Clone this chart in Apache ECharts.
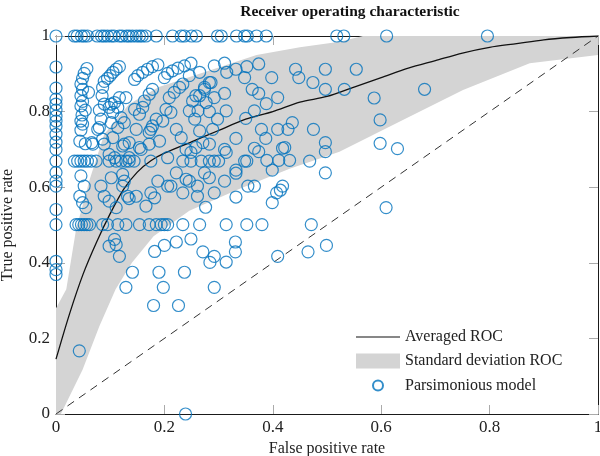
<!DOCTYPE html>
<html>
<head>
<meta charset="utf-8">
<script src="https://cdn.jsdelivr.net/npm/echarts@6/dist/echarts.min.js"></script>
<style>
  html, body { margin: 0; padding: 0; background: #fff; }
  #chart { width: 600px; height: 456px; }
</style>
</head>
<body>
<div id="chart"></div>
<script>
// averaged ROC curve (vertical averaging)
var meanX = [0, 0.025, 0.05, 0.075, 0.1, 0.125, 0.15, 0.175, 0.2, 0.25, 0.3, 0.35, 0.4, 0.45, 0.5, 0.55, 0.6, 0.65, 0.7, 0.75, 0.8, 0.85, 0.9, 0.95, 1];
var meanY = [0.145, 0.265, 0.37, 0.455, 0.53, 0.595, 0.64, 0.67, 0.69, 0.72, 0.75, 0.78, 0.80, 0.825, 0.84, 0.865, 0.89, 0.915, 0.935, 0.955, 0.97, 0.98, 0.99, 0.996, 1];

// standard deviation band, upper and lower edge
var upperX = [0, 0.019, 0.037, 0.062, 0.089, 0.135, 0.19, 0.265, 0.37, 0.45, 0.523, 0.566, 1];
var upperY = [0.28, 0.33, 0.488, 0.62, 0.74, 0.82, 0.865, 0.9, 0.95, 0.97, 0.985, 1, 1];
var lowerX = [0, 0.009, 0.049, 0.08, 0.11, 0.14, 0.18, 0.246, 0.339, 0.431, 0.523, 0.628, 0.751, 0.874, 1];
var lowerY = [0, 0, 0.117, 0.232, 0.33, 0.4, 0.47, 0.538, 0.596, 0.649, 0.694, 0.769, 0.857, 0.928, 0.95];

// parsimonious models: those with TPR = 1
var topRowX = [0, 0.034, 0.039, 0.047, 0.052, 0.058, 0.076, 0.084, 0.089, 0.095, 0.102, 0.107, 0.117, 0.122, 0.13, 0.135, 0.141, 0.148, 0.154, 0.159, 0.166, 0.185, 0.215, 0.231, 0.237, 0.25, 0.259, 0.298, 0.305, 0.333, 0.348, 0.353, 0.37, 0.388, 0.518, 0.531, 0.61, 0.796];
// models with FPR = 0
var axisColY = [0.918, 0.862, 0.833, 0.82, 0.804, 0.788, 0.775, 0.761, 0.74, 0.719, 0.70, 0.669, 0.639, 0.616, 0.603, 0.541, 0.501, 0.404, 0.382, 0.369];
// all the others, [fpr, tpr]
var innerPoints = [
  [0.057, 0.914], [0.052, 0.901], [0.049, 0.888],
  [0.046, 0.873], [0.049, 0.859], [0.06, 0.851], [0.046, 0.842], [0.049, 0.827], [0.046, 0.815], [0.054, 0.804], [0.048, 0.791], [0.046, 0.775], [0.049, 0.767], [0.046, 0.751], [0.044, 0.722], [0.054, 0.715], [0.066, 0.718],
  [0.117, 0.919], [0.111, 0.912], [0.105, 0.904], [0.1, 0.895], [0.095, 0.888], [0.089, 0.88], [0.086, 0.864], [0.085, 0.842], [0.089, 0.82], [0.08, 0.804], [0.083, 0.78], [0.08, 0.758], [0.086, 0.727],
  [0.188, 0.924], [0.178, 0.919], [0.169, 0.912], [0.16, 0.904], [0.151, 0.895], [0.145, 0.885],
  [0.249, 0.928], [0.237, 0.921], [0.225, 0.915], [0.215, 0.908], [0.206, 0.901], [0.2, 0.89], [0.265, 0.904], [0.246, 0.895], [0.234, 0.873],
  [0.178, 0.859], [0.172, 0.846], [0.163, 0.828], [0.16, 0.811], [0.228, 0.864], [0.218, 0.851], [0.209, 0.837], [0.274, 0.864], [0.265, 0.842], [0.252, 0.828],
  [0.117, 0.837], [0.129, 0.837], [0.108, 0.824], [0.098, 0.811], [0.203, 0.806], [0.212, 0.798], [0.145, 0.806], [0.154, 0.793], [0.185, 0.78], [0.197, 0.775],
  [0.246, 0.802], [0.256, 0.78], [0.277, 0.824], [0.283, 0.80], [0.126, 0.771], [0.114, 0.758], [0.148, 0.753], [0.178, 0.762], [0.172, 0.745], [0.222, 0.753],
  [0.231, 0.731], [0.265, 0.749], [0.105, 0.731], [0.135, 0.718], [0.123, 0.709], [0.157, 0.70], [0.191, 0.722], [0.24, 0.70], [0.249, 0.692], [0.283, 0.714],
  [0.098, 0.687], [0.108, 0.678], [0.135, 0.678], [0.206, 0.678], [0.268, 0.669],
  [0.102, 0.82], [0.114, 0.811], [0.105, 0.798], [0.12, 0.784], [0.102, 0.771],
  [0.292, 0.921], [0.311, 0.928], [0.315, 0.904], [0.332, 0.912], [0.352, 0.919], [0.374, 0.926], [0.348, 0.89], [0.398, 0.89], [0.442, 0.912], [0.448, 0.89],
  [0.497, 0.912], [0.474, 0.877], [0.497, 0.859], [0.286, 0.877], [0.362, 0.859], [0.374, 0.848], [0.409, 0.837], [0.311, 0.848], [0.292, 0.837], [0.388, 0.821],
  [0.366, 0.802], [0.314, 0.802], [0.35, 0.782], [0.298, 0.78], [0.436, 0.771], [0.428, 0.753], [0.409, 0.753], [0.379, 0.753], [0.475, 0.753], [0.387, 0.729],
  [0.332, 0.729], [0.289, 0.753], [0.418, 0.703], [0.366, 0.703], [0.374, 0.694], [0.311, 0.70], [0.314, 0.692], [0.497, 0.718], [0.497, 0.694],
  [0.389, 0.671], [0.411, 0.671], [0.431, 0.671],
  [0.274, 0.859], [0.283, 0.877], [0.258, 0.842], [0.262, 0.802], [0.271, 0.718], [0.258, 0.705], [0.422, 0.705],
  [0.554, 0.912], [0.532, 0.859], [0.587, 0.836], [0.68, 0.859], [0.598, 0.778], [0.598, 0.716], [0.63, 0.702],
  [0.249, 0.669], [0.283, 0.669], [0.292, 0.669], [0.30, 0.669], [0.348, 0.669], [0.352, 0.669], [0.468, 0.669], [0.497, 0.638], [0.274, 0.638], [0.283, 0.625],
  [0.332, 0.645], [0.332, 0.637], [0.399, 0.645], [0.246, 0.616], [0.261, 0.603], [0.311, 0.616], [0.292, 0.585], [0.354, 0.603], [0.366, 0.603], [0.418, 0.603],
  [0.414, 0.592], [0.407, 0.585], [0.332, 0.574], [0.399, 0.559], [0.276, 0.547], [0.265, 0.501], [0.314, 0.501], [0.352, 0.501], [0.38, 0.501], [0.471, 0.501],
  [0.609, 0.546],
  [0.034, 0.669], [0.04, 0.669], [0.046, 0.669], [0.052, 0.669], [0.058, 0.669], [0.065, 0.669], [0.074, 0.669], [0.098, 0.669], [0.111, 0.669], [0.12, 0.669],
  [0.129, 0.669], [0.135, 0.669], [0.144, 0.669], [0.175, 0.669], [0.234, 0.669],
  [0.037, 0.501], [0.042, 0.501], [0.047, 0.501], [0.052, 0.501], [0.057, 0.501], [0.062, 0.501], [0.086, 0.501], [0.095, 0.501], [0.114, 0.501], [0.129, 0.501],
  [0.154, 0.501], [0.172, 0.501], [0.185, 0.501], [0.194, 0.501], [0.2, 0.501], [0.206, 0.501], [0.234, 0.501],
  [0.046, 0.63], [0.052, 0.603], [0.044, 0.576], [0.049, 0.559], [0.055, 0.546], [0.083, 0.603], [0.089, 0.576], [0.098, 0.563], [0.111, 0.546], [0.102, 0.625],
  [0.123, 0.634], [0.126, 0.616], [0.123, 0.603], [0.132, 0.576], [0.135, 0.57], [0.148, 0.576], [0.166, 0.55], [0.175, 0.585], [0.182, 0.572], [0.188, 0.616],
  [0.206, 0.603], [0.212, 0.603], [0.222, 0.638], [0.234, 0.585], [0.24, 0.621], [0.261, 0.576],
  [0.108, 0.462], [0.098, 0.444], [0.111, 0.448], [0.117, 0.417],
  [0.068, 0.714], [0.089, 0.714], [0.126, 0.714], [0.154, 0.705], [0.172, 0.714], [0.077, 0.753], [0.175, 0.753],
  [0.182, 0.43], [0.2, 0.446], [0.222, 0.455], [0.249, 0.463], [0.271, 0.429], [0.292, 0.417], [0.284, 0.401], [0.314, 0.402], [0.331, 0.455], [0.331, 0.429],
  [0.409, 0.417], [0.465, 0.429], [0.499, 0.446],
  [0.043, 0.167], [0.239, 0], [0.141, 0.375], [0.19, 0.375], [0.237, 0.375], [0.129, 0.335], [0.198, 0.335], [0.292, 0.335], [0.18, 0.287], [0.226, 0.287]
];

var chanceLine = [[0, 0], [1, 1]];

var serif = 'Liberation Serif';
var textColor = '#222';
var modelBlue = '#0072BD';
var bandGrey = '#d4d4d4';

function zip(xs, ys) {
  var out = [];
  for (var i = 0; i < xs.length; i++) out.push([xs[i], ys[i]]);
  return out;
}

var modelData = topRowX.map(function (x) { return [x, 1]; })
  .concat(axisColY.map(function (y) { return [0, y]; }))
  .concat(innerPoints);

function axisDef(pos, showLabel) {
  var isX = pos === 'bottom' || pos === 'top';
  return {
    type: 'value',
    position: pos,
    min: 0,
    max: 1,
    interval: 0.2,
    splitLine: { show: false },
    axisLine: { show: true, onZero: false, lineStyle: { color: '#1a1a1a', width: 1 } },
    axisTick: { show: true, inside: true, length: 9, lineStyle: { color: '#aaa', width: 1 } },
    axisLabel: {
      show: showLabel,
      margin: isX ? 5 : 6,
      fontFamily: serif,
      fontSize: 17,
      color: textColor
    }
  };
}

var chart = echarts.init(document.getElementById('chart'), null, { renderer: 'canvas' });

var xBottom = axisDef('bottom', true);
xBottom.name = 'False positive rate';
xBottom.nameLocation = 'middle';
xBottom.nameGap = 24;
xBottom.nameTextStyle = { fontFamily: serif, fontSize: 16, color: textColor };

var yLeft = axisDef('left', true);
yLeft.name = 'True positive rate';
yLeft.nameLocation = 'middle';
yLeft.nameGap = 40;
yLeft.nameTextStyle = { fontFamily: serif, fontSize: 16, color: textColor };

var option = {
  backgroundColor: '#fff',
  animation: false,
  title: {
    text: 'Receiver operating characteristic',
    left: 345,
    top: -1,
    textAlign: 'center',
    textStyle: { fontFamily: serif, fontSize: 15.5, fontWeight: 'bold', color: '#111' }
  },
  grid: { left: 56, right: 2, top: 36, bottom: 42, containLabel: false, outerBoundsMode: 'none' },
  xAxis: [xBottom, axisDef('top', false)],
  yAxis: [yLeft, axisDef('right', false)],
  legend: {
    orient: 'vertical',
    left: 350,
    top: 324,
    itemWidth: 44,
    itemHeight: 15,
    itemGap: 8,
    selectedMode: false,
    textStyle: { fontFamily: serif, fontSize: 16, color: textColor },
    data: [
      { name: 'Averaged ROC', icon: 'path://M0 7L44 7L44 8.1L0 8.1Z' },
      { name: 'Standard deviation ROC', icon: 'rect' },
      { name: 'Parsimonious model', icon: 'path://M0 0M44 15M17 7.5a5 5 0 1 0 10 0a5 5 0 1 0 -10 0' }
    ]
  },
  series: [
    {
      name: 'Standard deviation ROC',
      type: 'custom',
      silent: true,
      clip: true,
      itemStyle: { color: bandGrey },
      data: [[0, 0]],
      renderItem: function (params, api) {
        var pts = [];
        for (var i = 0; i < upperX.length; i++) pts.push(api.coord([upperX[i], upperY[i]]));
        for (var j = lowerX.length - 1; j >= 0; j--) pts.push(api.coord([lowerX[j], lowerY[j]]));
        return { type: 'polygon', shape: { points: pts }, style: { fill: bandGrey } };
      },
      z: 1
    },
    {
      name: 'chance',
      type: 'line',
      data: chanceLine,
      symbol: 'none',
      silent: true,
      lineStyle: { color: '#333', width: 1, type: [8, 6] },
      z: 2
    },
    {
      name: 'Averaged ROC',
      type: 'line',
      data: zip(meanX, meanY),
      symbol: 'none',
      smooth: 0.3,
      silent: true,
      itemStyle: { color: '#111' },
      lineStyle: { color: '#111', width: 1.3 },
      z: 3
    },
    {
      name: 'Parsimonious model',
      type: 'scatter',
      data: modelData,
      symbol: 'circle',
      symbolSize: 12,
      silent: true,
      itemStyle: { color: 'rgba(0,0,0,0)', borderColor: modelBlue, borderWidth: 1.2 },
      z: 4
    }
  ]
};

chart.setOption(option);
</script>
</body>
</html>
